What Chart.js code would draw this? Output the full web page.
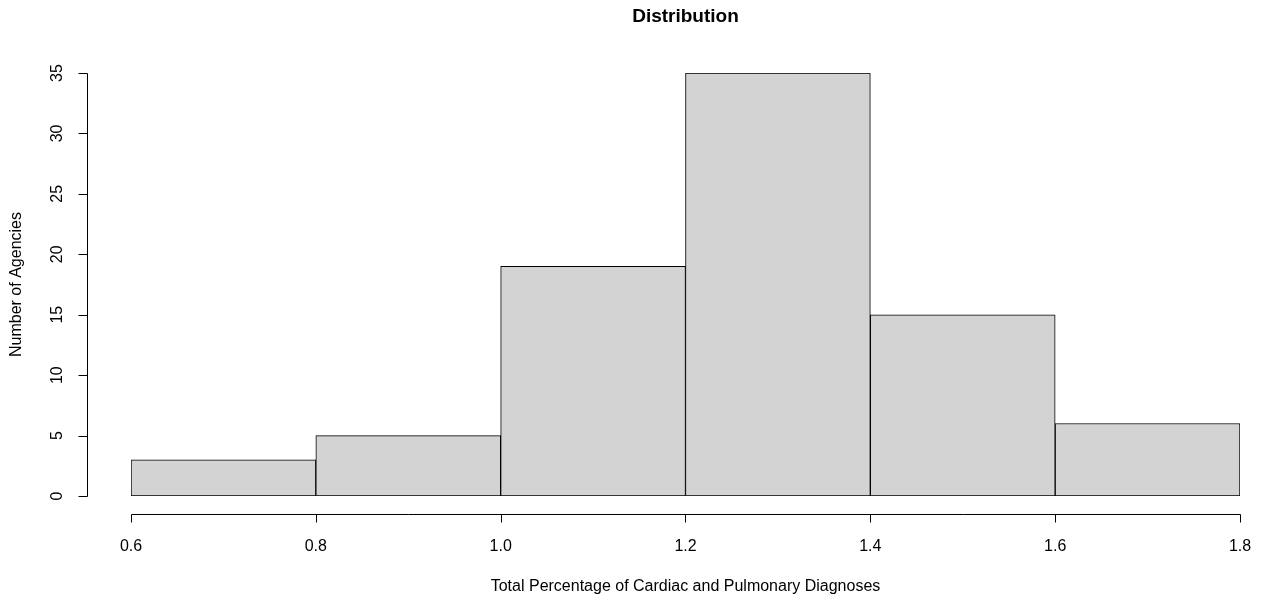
<!DOCTYPE html>
<html>
<head>
<meta charset="utf-8">
<script src="https://cdn.jsdelivr.net/npm/chart.js@4.4.1/dist/chart.umd.min.js"></script>
<style>
  html, body { margin: 0; padding: 0; background: #ffffff; }
  #wrap { width: 1262px; height: 600px; }
</style>
</head>
<body>
<div id="wrap"><canvas id="hist" width="1262" height="600"></canvas></div>
<script>
// Histogram bins (left edge, right edge) and counts
const binStarts = [0.6, 0.8, 1.0, 1.2, 1.4, 1.6];
const binEnds = [0.8, 1.0, 1.2, 1.4, 1.6, 1.8];
const counts = [3, 5, 19, 35, 15, 6];

// Axis ticks
const xTicks = [0.6, 0.8, 1.0, 1.2, 1.4, 1.6, 1.8];
const yTicks = [0, 5, 10, 15, 20, 25, 30, 35];

const titleText = 'Distribution';
const xTitle = 'Total Percentage of Cardiac and Pulmonary Diagnoses';
const yTitle = 'Number of Agencies';

const FONT = "'Liberation Sans', Arial, Helvetica, sans-serif";

// R style detached axes, title and labels
const baseAxes = {
  id: 'baseAxes',
  afterDraw(chart) {
    const ctx = chart.ctx;
    const xs = chart.scales.x;
    const ys = chart.scales.y;
    const area = chart.chartArea;
    const midX = xs.getPixelForValue(1.2);
    const midY = (area.top + area.bottom) / 2;
    const axisX = 87.5;
    const axisY = 514.5;

    ctx.save();
    ctx.strokeStyle = '#000';
    ctx.fillStyle = '#000';
    ctx.lineWidth = 1;

    // title
    ctx.font = 'bold 19px ' + FONT;
    ctx.textAlign = 'center';
    ctx.textBaseline = 'middle';
    ctx.fillText(titleText, midX, 17);

    // x axis
    ctx.beginPath();
    ctx.moveTo(Math.round(xs.getPixelForValue(xTicks[0])) + 0.5, axisY);
    ctx.lineTo(Math.round(xs.getPixelForValue(xTicks[xTicks.length - 1])) + 0.5, axisY);
    xTicks.forEach(v => {
      const px = Math.round(xs.getPixelForValue(v)) + 0.5;
      ctx.moveTo(px, axisY);
      ctx.lineTo(px, axisY + 8);
    });
    ctx.stroke();
    ctx.font = '16px ' + FONT;
    xTicks.forEach(v => {
      ctx.fillText(v.toFixed(1), xs.getPixelForValue(v), 547);
    });
    ctx.fillText(xTitle, midX, 587);

    // y axis
    ctx.beginPath();
    ctx.moveTo(axisX, Math.round(ys.getPixelForValue(yTicks[0])) + 0.5);
    ctx.lineTo(axisX, Math.round(ys.getPixelForValue(yTicks[yTicks.length - 1])) + 0.5);
    yTicks.forEach(v => {
      const py = Math.round(ys.getPixelForValue(v)) + 0.5;
      ctx.moveTo(axisX, py);
      ctx.lineTo(axisX - 9, py);
    });
    ctx.stroke();
    yTicks.forEach(v => {
      ctx.save();
      ctx.translate(58, ys.getPixelForValue(v));
      ctx.rotate(-Math.PI / 2);
      ctx.fillText(String(v), 0, 0);
      ctx.restore();
    });
    ctx.save();
    ctx.translate(17, midY);
    ctx.rotate(-Math.PI / 2);
    ctx.fillText(yTitle, 0, 0);
    ctx.restore();

    ctx.restore();
  }
};

const points = counts.map((c, i) => ({ x: (binStarts[i] + binEnds[i]) / 2, y: c }));

new Chart(document.getElementById('hist'), {
  type: 'bar',
  data: {
    datasets: [{
      data: points,
      backgroundColor: '#d3d3d3',
      borderColor: '#000000',
      borderWidth: 1,
      borderSkipped: false,
      barPercentage: 1,
      categoryPercentage: 1
    }]
  },
  options: {
    responsive: false,
    animation: false,
    layout: { padding: { left: 131, right: 22, top: 73, bottom: 104 } },
    plugins: {
      legend: { display: false },
      tooltip: { enabled: false }
    },
    scales: {
      x: { type: 'linear', min: 0.6, max: 1.8, display: false, offset: false },
      y: { min: 0, max: 35, display: false }
    }
  },
  plugins: [baseAxes]
});
</script>
</body>
</html>
